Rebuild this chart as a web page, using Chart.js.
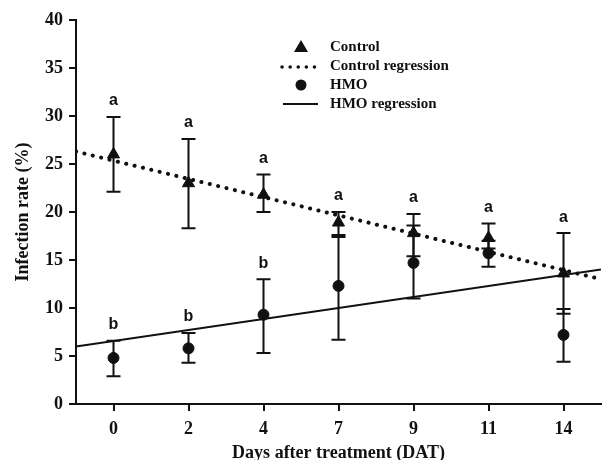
<!DOCTYPE html>
<html>
<head>
<meta charset="utf-8">
<script src="https://cdn.jsdelivr.net/npm/chart.js@4"></script>
<style>
  html, body { margin: 0; padding: 0; background: #fff; }
  #wrap { width: 609px; height: 460px; }
</style>
</head>
<body>
<div id="wrap"><canvas id="chart"></canvas></div>
<script>
// values
const days = ['0', '2', '4', '7', '9', '11', '14'];
const ctrlMean = [26.0, 23.0, 21.8, 18.9, 17.8, 17.3, 13.6];
const ctrlHigh = [29.9, 27.6, 23.9, 20.0, 19.8, 18.8, 17.8];
const ctrlLow = [22.1, 18.3, 20.0, 17.6, 15.4, 16.2, 9.4];
const hmoMean = [4.8, 5.8, 9.3, 12.3, 14.7, 15.7, 7.2];
const hmoHigh = [6.6, 7.4, 13.0, 17.4, 18.6, 17.0, 9.9];
const hmoLow = [2.9, 4.3, 5.3, 6.7, 11.0, 14.3, 4.4];
const ctrlLetters = ['a', 'a', 'a', 'a', 'a', 'a', 'a'];
const hmoLetters = ['b', 'b', 'b', '', '', '', ''];
// regression lines at the two ends of the axis (index -0.5 and 6.5)
const fitX = [-0.5, 6.5];
const ctrlFit = [26.3, 13.0];
const hmoFit = [6.0, 14.0];

const serif = '"Liberation Serif", "Times New Roman", serif';
const sans = '"Liberation Sans", Arial, sans-serif';

const toPoints = (ys) => ys.map((y, i) => ({x: i, y: y}));
const fitPoints = (ys) => ys.map((y, i) => ({x: fitX[i], y: y}));

const errorBars = {
    id: 'errorBars',
    afterDatasetsDraw(chart) {
        const {ctx, scales: {x, y}} = chart;
        const sets = [
            {high: hmoHigh, low: hmoLow, letters: hmoLetters},
            {high: ctrlHigh, low: ctrlLow, letters: ctrlLetters}
        ];
        ctx.save();
        ctx.strokeStyle = '#111';
        ctx.lineWidth = 2;
        sets.forEach(s => {
            s.high.forEach((h, i) => {
                const px = x.getPixelForValue(i);
                const top = y.getPixelForValue(h);
                const bot = y.getPixelForValue(s.low[i]);
                ctx.beginPath();
                ctx.moveTo(px, top); ctx.lineTo(px, bot);
                ctx.moveTo(px - 7, top); ctx.lineTo(px + 7, top);
                ctx.moveTo(px - 7, bot); ctx.lineTo(px + 7, bot);
                ctx.stroke();
            });
        });
        ctx.fillStyle = '#111';
        ctx.font = 'bold 16px ' + sans;
        ctx.textAlign = 'center';
        ctx.textBaseline = 'bottom';
        sets.forEach(s => {
            s.letters.forEach((l, i) => {
                if (!l) return;
                ctx.fillText(l, x.getPixelForValue(i), y.getPixelForValue(s.high[i]) - 8);
            });
        });
        ctx.restore();
    }
};

const legendBox = {
    id: 'legendBox',
    afterDraw(chart) {
        const ctx = chart.ctx;
        ctx.save();
        ctx.fillStyle = '#111';
        ctx.strokeStyle = '#111';
        // triangle
        ctx.beginPath();
        ctx.moveTo(301, 40); ctx.lineTo(308, 52); ctx.lineTo(294, 52); ctx.closePath();
        ctx.fill();
        // dotted
        ctx.lineWidth = 3.5;
        ctx.lineCap = 'round';
        ctx.setLineDash([0.1, 8]);
        ctx.beginPath(); ctx.moveTo(282, 67); ctx.lineTo(319, 67); ctx.stroke();
        ctx.setLineDash([]);
        // circle
        ctx.beginPath(); ctx.arc(301, 85, 5.5, 0, Math.PI * 2); ctx.fill();
        // solid
        ctx.lineWidth = 2;
        ctx.lineCap = 'butt';
        ctx.beginPath(); ctx.moveTo(283, 104); ctx.lineTo(318, 104); ctx.stroke();
        ctx.font = 'bold 15px ' + serif;
        ctx.textBaseline = 'middle';
        ctx.textAlign = 'left';
        ['Control', 'Control regression', 'HMO', 'HMO regression'].forEach((t, i) => {
            ctx.fillText(t, 330, 47 + i * 19);
        });
        ctx.restore();
    }
};

new Chart(document.getElementById('chart'), {
    type: 'scatter',
    data: {
        datasets: [
            {
                label: 'Control regression',
                type: 'line',
                data: fitPoints(ctrlFit),
                borderColor: '#111',
                borderWidth: 4,
                borderDash: [0.1, 8.5],
                borderCapStyle: 'round',
                pointRadius: 0,
                fill: false
            },
            {
                label: 'HMO regression',
                type: 'line',
                data: fitPoints(hmoFit),
                borderColor: '#111',
                borderWidth: 2,
                pointRadius: 0,
                fill: false
            },
            {
                label: 'Control',
                data: toPoints(ctrlMean),
                pointStyle: 'triangle',
                pointRadius: 7,
                backgroundColor: '#111',
                borderColor: '#111'
            },
            {
                label: 'HMO',
                data: toPoints(hmoMean),
                pointStyle: 'circle',
                pointRadius: 5.5,
                backgroundColor: '#111',
                borderColor: '#111'
            }
        ]
    },
    options: {
        responsive: true,
        maintainAspectRatio: false,
        animation: false,
        layout: {padding: {top: 20, right: 2, left: 0, bottom: 0}},
        plugins: {
            legend: {display: false},
            tooltip: {enabled: false}
        },
        scales: {
            x: {
                type: 'linear',
                min: -0.5,
                max: 6.5,
                afterFit: (s) => { s.height = 56; },
                afterBuildTicks: (s) => { s.ticks = days.map((d, i) => ({value: i})); },
                ticks: {
                    callback: (v) => days[v],
                    color: '#111',
                    font: {family: serif, size: 18, weight: 'bold'},
                    padding: 8,
                    maxRotation: 0
                },
                grid: {display: true, drawOnChartArea: false, tickLength: 7, color: '#111', lineWidth: 2},
                border: {display: true, color: '#111', width: 2},
                title: {
                    display: true,
                    text: 'Days after treatment (DAT)',
                    color: '#111',
                    font: {family: serif, size: 18, weight: 'bold'},
                    padding: {top: 0, bottom: -4}
                }
            },
            y: {
                min: 0,
                max: 40,
                afterFit: (s) => { s.width = 76; },
                ticks: {
                    stepSize: 5,
                    color: '#111',
                    font: {family: serif, size: 18, weight: 'bold'},
                    padding: 6
                },
                grid: {display: true, drawOnChartArea: false, tickLength: 7, color: '#111', lineWidth: 2},
                border: {display: true, color: '#111', width: 2},
                title: {
                    display: true,
                    text: 'Infection rate (%)',
                    color: '#111',
                    font: {family: serif, size: 18, weight: 'bold'},
                    padding: {top: 13, bottom: 0}
                }
            }
        }
    },
    plugins: [errorBars, legendBox]
});
</script>
</body>
</html>
